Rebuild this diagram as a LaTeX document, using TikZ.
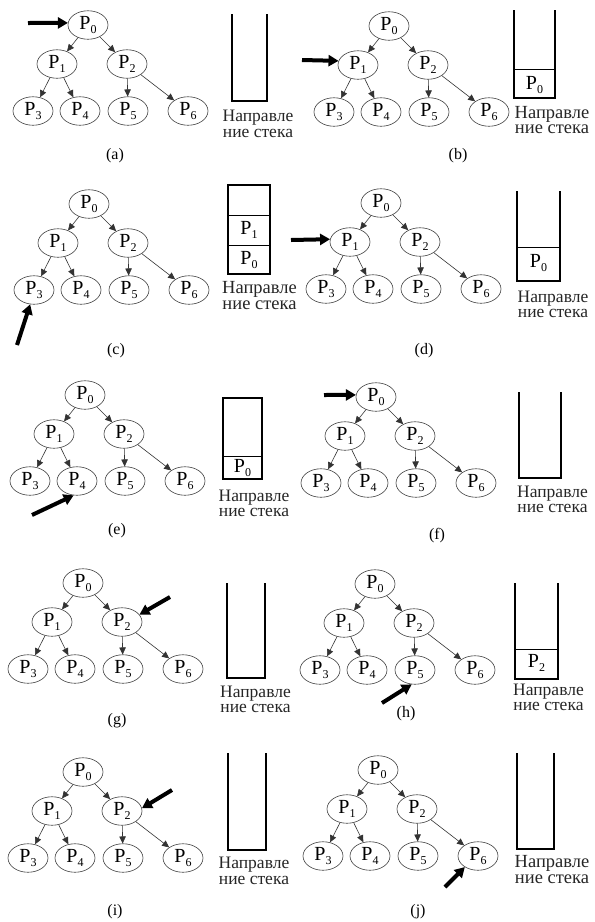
\documentclass[tikz,border=0pt]{standalone}
\usepackage{fontspec}
\setmainfont{Liberation Serif}
\usetikzlibrary{shapes.geometric,arrows.meta}

% process name with a lowered index
\newcommand\Pn[1]{P\raisebox{-3.5pt}{\fontsize{12}{12}\selectfont #1}}

\tikzset{
  proc/.style={ellipse, draw=black!75, line width=0.6pt, minimum width=40pt,
    minimum height=28.5pt, inner sep=0pt, font=\fontsize{20}{20}\selectfont},
  edge/.style={draw=black!80, line width=0.6pt, -{Triangle[length=7pt,width=6.5pt]}},
  pointer/.style={line width=4pt, -{Triangle[length=10pt,width=11pt]}},
  wall/.style={line width=2.2pt, line join=miter},
  cell/.style={line width=1pt},
  celltext/.style={inner sep=0pt, font=\fontsize{20}{20}\selectfont},
  stackcap/.style={align=center, inner sep=0pt, text=black!85,
    font=\fontsize{17.5}{15.5}\selectfont},
  widecap/.style={stackcap, font=\fontsize{18.5}{15.5}\selectfont},
  panel/.style={inner sep=0pt, font=\fontsize{16}{16}\selectfont},
}

% binary tree of seven processes, root at (#2,#3)
\newcommand\drawtree[3]{%
  \begin{scope}[shift={(#2,#3)}]
    \node[proc] (#1p0) at (0,0) {\Pn0};
    \node[proc] (#1p1) at (-31,39) {\Pn1};
    \node[proc] (#1p2) at (39,39) {\Pn2};
    \node[proc] (#1p3) at (-55,86) {\Pn3};
    \node[proc] (#1p4) at (-8,86) {\Pn4};
    \node[proc] (#1p5) at (40,86) {\Pn5};
    \node[proc] (#1p6) at (100,86) {\Pn6};
  \end{scope}
  \draw[edge] (#1p0) -- (#1p1);
  \draw[edge] (#1p0) -- (#1p2);
  \draw[edge] (#1p1) -- (#1p3);
  \draw[edge] (#1p1) -- (#1p4);
  \draw[edge] (#1p2) -- (#1p5);
  \draw[edge] (#1p2) -- (#1p6);
}

\begin{document}
\begin{tikzpicture}[x=1pt,y=-1pt]
\useasboundingbox (0,0) rectangle (595,922);
\fill[white] (0,0) rectangle (595,922);

% (a)
\drawtree{a}{88}{25}
\coordinate (apt) at (28,23);
\draw[pointer] (apt) -- (ap0.174);
\draw[wall] (232,14) -- (232,101) -- (267,101) -- (267,14);
\node[stackcap] (acap) at (258,124) {Направле\\ние стека};
\node[panel] (alab) at (115,156) {(a)};

% (b)
\drawtree{b}{389}{26}
\coordinate (bpt) at (302,60);
\draw[pointer] (bpt) -- (bp1.168);
\draw[wall] (514,10) -- (514,98) -- (555,98) -- (555,10);
\draw[cell] (514,69) -- (555,69);
\node[celltext] (bs0) at (534.5,85) {\Pn0};
\node[widecap] (bcap) at (552,120) {Направле\\ние стека};
\node[panel] (blab) at (458,156) {(b)};

% (c)
\drawtree{c}{89}{204}
\coordinate (cpt) at (17,345);
\draw[pointer] (cpt) -- (cp3.-105);
\draw[wall] (228,185) rectangle (270,274);
\draw[cell] (228,215) -- (270,215);
\draw[cell] (228,245) -- (270,245);
\node[celltext] (cs1) at (249,230) {\Pn1};
\node[celltext] (cs0) at (249,260) {\Pn0};
\node[widecap] (ccap) at (259.5,295.5) {Направле\\ние стека};
\node[panel] (clab) at (116,351) {(c)};

% (d)
\drawtree{d}{381}{203}
\coordinate (dpt) at (291,240);
\draw[pointer] (dpt) -- (dp1.172);
\draw[wall] (517,191) -- (517,281) -- (560,281) -- (560,191);
\draw[cell] (517,247) -- (560,247);
\node[celltext] (ds0) at (538.5,263) {\Pn0};
\node[stackcap] (dcap) at (553,304.5) {Направле\\ние стека};
\node[panel] (dlab) at (424,351) {(d)};

% (e)
\drawtree{e}{85}{395}
\coordinate (ept) at (32,515);
\draw[pointer] (ept) -- (ep4.-103);
\draw[wall] (223,398) rectangle (262,479);
\draw[cell] (223,456) -- (262,456);
\node[celltext] (es0) at (242.5,468) {\Pn0};
\node[stackcap] (ecap) at (254,503.5) {Направле\\ние стека};
\node[panel] (elab) at (117,531) {(e)};

% (f)
\drawtree{f}{376}{397}
\coordinate (fpt) at (324,395);
\draw[pointer] (fpt) -- (fp0.174);
\draw[wall] (519,392) -- (519,478) -- (561,478) -- (561,392);
\node[stackcap] (fcap) at (552.5,499.5) {Направле\\ние стека};
\node[panel] (flab) at (437,536) {(f)};

% (g)
\drawtree{g}{83}{583}
\coordinate (gpt) at (170,597);
\draw[pointer] (gpt) -- (gp2.23);
\draw[wall] (227,583) -- (227,678) -- (265,678) -- (265,583);
\node[stackcap] (gcap) at (255.5,699.5) {Направле\\ние стека};
\node[panel] (glab) at (117,721) {(g)};

% (h)
\drawtree{h}{375}{584}
\coordinate (hpt) at (382,703);
\draw[pointer] (hpt) -- (hp5.-103);
\draw[wall] (515,583) -- (515,679) -- (558,679) -- (558,583);
\draw[cell] (515,649) -- (558,649);
\node[celltext] (hs2) at (536.5,663) {\Pn2};
\node[stackcap] (hcap) at (548.5,697.5) {Направле\\ние стека};
\node[panel] (hlab) at (406,714) {(h)};

% (i)
\drawtree{i}{83}{772}
\coordinate (ipt) at (172,790);
\draw[pointer] (ipt) -- (ip2.8);
\draw[wall] (228,753) -- (228,850) -- (266,850) -- (266,753);
\node[stackcap] (icap) at (254,871) {Направле\\ние стека};
\node[panel] (ilab) at (115,912) {(i)};

% (j)
\drawtree{j}{378}{770}
\coordinate (jpt) at (445,887);
\draw[pointer] (jpt) -- (jp6.-140);
\draw[wall] (517,753) -- (517,849) -- (554,849) -- (554,753);
\node[widecap] (jcap) at (552,869.5) {Направле\\ние стека};
\node[panel] (jlab) at (418,912) {(j)};
\end{tikzpicture}
\end{document}
